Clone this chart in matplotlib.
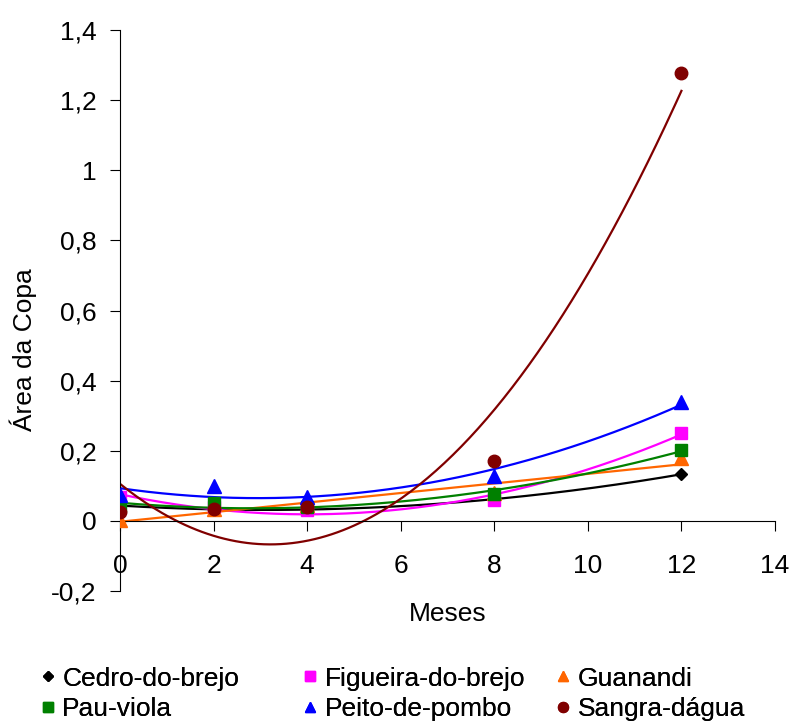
import matplotlib.pyplot as plt
import numpy as np
from matplotlib.ticker import FuncFormatter

plt.rcParams['font.family'] = ['Liberation Sans', 'DejaVu Sans']

# Months of measurement
meses = [0, 2, 4, 8, 12]

# Crown area per species
cedro = [0.04, 0.04, 0.03, 0.06, 0.134]
figueira = [0.068, 0.04, 0.03, 0.06, 0.252]
guanandi = [0.003, 0.035, 0.045, 0.08, 0.18]
pau_viola = [0.042, 0.052, 0.04, 0.077, 0.203]
peito = [0.074, 0.099, 0.068, 0.129, 0.339]
sangra = [0.025, 0.035, 0.04, 0.172, 1.278]

# name, values, colour, marker, size, trend degree
series = [
    ('Cedro-do-brejo', cedro, 'black', 'D', 6.5, 2),
    ('Figueira-do-brejo', figueira, '#FF00FF', 's', 9, 2),
    ('Guanandi', guanandi, '#FF6600', '^', 9.5, 1),
    ('Pau-viola', pau_viola, '#008000', 's', 9, 2),
    ('Peito-de-pombo', peito, '#0000FF', '^', 9.5, 2),
    ('Sangra-dágua', sangra, '#800000', 'o', 9, 2),
]

fig = plt.figure(figsize=(7.97, 7.25), dpi=100)
ax = fig.add_axes([0.1506, 0.1848, 0.8218, 0.7738])

handles = {}
xs = np.linspace(0, 12, 200)
for name, y, color, marker, ms, deg in series:
    h, = ax.plot(meses, y, linestyle='none', marker=marker, color=color,
                 markersize=ms, label=name, zorder=3)
    handles[name] = h
    # polynomial trend line, as in the spreadsheet
    coef = np.polyfit(meses, y, deg)
    ax.plot(xs, np.polyval(coef, xs), color=color, lw=1.6, zorder=2)

ax.set_xlim(0, 14)
ax.set_ylim(-0.2, 1.4)
ax.set_xticks(range(0, 15, 2))
ax.set_yticks(np.arange(-0.2, 1.41, 0.2))

fmt = FuncFormatter(lambda v, p: ('%g' % round(v, 2)).replace('.', ','))
ax.yaxis.set_major_formatter(fmt)

ax.spines['top'].set_visible(False)
ax.spines['right'].set_visible(False)
ax.spines['bottom'].set_position(('data', 0))
ax.tick_params(axis='both', direction='out', length=7, labelsize=19)
ax.tick_params(axis='x', pad=17)
ax.tick_params(axis='y', pad=10)

ax.set_xlabel('Meses', fontsize=19)
ax.xaxis.set_label_coords(0.5, -0.019)
ax.set_ylabel('Área da Copa', fontsize=19)
ax.yaxis.set_label_coords(-0.127, 0.43)

# legend: three columns placed side by side
cols = [['Cedro-do-brejo', 'Pau-viola'],
        ['Figueira-do-brejo', 'Peito-de-pombo'],
        ['Guanandi', 'Sangra-dágua']]
col_x = [0.045, 0.374, 0.692]
for names, x0 in zip(cols, col_x):
    leg = fig.legend([handles[n] for n in names], names, loc='lower left',
                     bbox_to_anchor=(x0, -0.002), frameon=False, fontsize=19,
                     handlelength=0.5, handletextpad=0.3, labelspacing=0.25,
                     markerscale=0.8, borderpad=0.2, borderaxespad=0)
    fig.add_artist(leg)

plt.savefig('out.png', dpi=100)
plt.close()
